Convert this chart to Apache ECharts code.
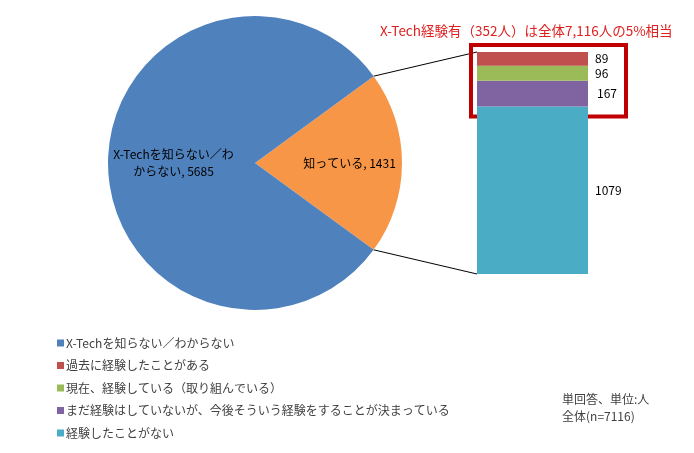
<!DOCTYPE html>
<html>
<head>
<meta charset="utf-8">
<script src="https://cdn.jsdelivr.net/npm/echarts@6/dist/echarts.min.js"></script>
<style>
  html, body { margin: 0; padding: 0; background: #fff; }
  #chart { width: 694px; height: 453px; }
</style>
</head>
<body>
<div id="chart"></div>
<script>
const myChart = echarts.init(document.getElementById('chart'));

// pie: 知っている / 知らない
const pieNames = ['知っている', 'X-Techを知らない／わからない'];
const pieLabelNames = ['知っている', 'X-Techを知らない／わ\nからない'];
const pieValues = [1431, 5685];
const pieColors = ['#F79646', '#4F81BD'];

// stacked bar (bottom to top)
const barNames = [
    '経験したことがない',
    'まだ経験はしていないが、今後そういう経験をすることが決まっている',
    '現在、経験している（取り組んでいる）',
    '過去に経験したことがある'
];
const barValues = [1079, 167, 96, 89];
const barColors = ['#4BACC6', '#8064A2', '#9BBB59', '#C0504D'];

const legendOrder = [
    'X-Techを知らない／わからない',
    '過去に経験したことがある',
    '現在、経験している（取り組んでいる）',
    'まだ経験はしていないが、今後そういう経験をすることが決まっている',
    '経験したことがない'
];

const font = '"Noto Sans CJK JP", "Noto Sans", sans-serif';
const pieCenter = [255, 163];
const pieRadius = 147;
const barTotal = pieValues[0];

var pieData = [];
for (var i = 0; i < pieNames.length; i++) {
    pieData.push({
        name: pieNames[i],
        value: pieValues[i],
        itemStyle: { color: pieColors[i] },
        label: { offset: i === 0 ? [18, 0] : [-5, 0] }
    });
}

var series = [{
    name: 'pie',
    type: 'pie',
    center: pieCenter,
    radius: pieRadius,
    startAngle: pieValues[0] / (pieValues[0] + pieValues[1]) * 180,
    clockwise: true,
    silent: true,
    data: pieData,
    label: {
        show: true,
        position: 'inside',
        color: '#000',
        fontSize: 12,
        fontFamily: font,
        lineHeight: 17,
        formatter: function (p) {
            return pieLabelNames[p.dataIndex] + ', ' + p.value;
        }
    },
    labelLine: { show: false },
    itemStyle: { borderWidth: 0 }
}];

for (var j = 0; j < barNames.length; j++) {
    series.push({
        name: barNames[j],
        type: 'bar',
        stack: 'total',
        barWidth: 111,
        silent: true,
        itemStyle: { color: barColors[j] },
        label: {
            show: true,
            position: 'right',
            distance: j === 1 ? 9 : 7,
            color: '#000',
            fontSize: 12,
            fontFamily: font
        },
        data: [barValues[j]]
    });
}

const option = {
    animation: false,
    title: {
        text: 'X-Tech経験有（352人）は全体7,116人の5%相当',
        left: 375,
        top: 19,
        textStyle: {
            color: '#e02020',
            fontSize: 13.5,
            fontWeight: 'normal',
            fontFamily: font
        }
    },
    legend: {
        data: legendOrder,
        orient: 'vertical',
        left: 52,
        top: 332,
        itemWidth: 7,
        itemHeight: 7,
        itemGap: 10.5,
        icon: 'rect',
        selectedMode: false,
        textStyle: {
            color: '#404040',
            fontSize: 12,
            fontFamily: font,
            padding: [0, 0, 0, -3]
        }
    },
    grid: {
        left: 477,
        top: 52,
        width: 111,
        height: 222
    },
    xAxis: {
        type: 'category',
        data: ['X-Tech'],
        show: false
    },
    yAxis: {
        type: 'value',
        min: 0,
        max: barTotal,
        show: false
    },
    series: series
};
myChart.setOption(option);

// connector lines, red box and note
var half = pieValues[0] / (pieValues[0] + pieValues[1]) * Math.PI;
var ex = pieCenter[0] + pieRadius * Math.cos(half);
var eyTop = pieCenter[1] - pieRadius * Math.sin(half);
var eyBot = pieCenter[1] + pieRadius * Math.sin(half);

var topPt = myChart.convertToPixel({ gridIndex: 0 }, [0, barTotal]);
var botPt = myChart.convertToPixel({ gridIndex: 0 }, [0, 0]);
var expPt = myChart.convertToPixel({ gridIndex: 0 }, [0, barValues[0]]);
var barLeft = topPt[0] - 111 / 2;
var barRight = topPt[0] + 111 / 2;

myChart.setOption({
    graphic: [
        {
            type: 'line',
            shape: { x1: ex, y1: eyTop, x2: barLeft, y2: topPt[1] },
            style: { stroke: '#000', lineWidth: 1 }
        },
        {
            type: 'line',
            shape: { x1: ex, y1: eyBot, x2: barLeft, y2: botPt[1] },
            style: { stroke: '#000', lineWidth: 1 }
        },
        {
            type: 'rect',
            shape: {
                x: barLeft - 6,
                y: topPt[1] - 7,
                width: barRight - barLeft + 44,
                height: expPt[1] - topPt[1] + 17
            },
            style: { fill: 'none', stroke: '#C00000', lineWidth: 4 }
        },
        {
            type: 'text',
            left: 562,
            top: 391,
            style: {
                text: '単回答、単位:人\n全体(n=7116)',
                fill: '#404040',
                font: '12px ' + font,
                lineHeight: 17
            }
        }
    ]
});
</script>
</body>
</html>
